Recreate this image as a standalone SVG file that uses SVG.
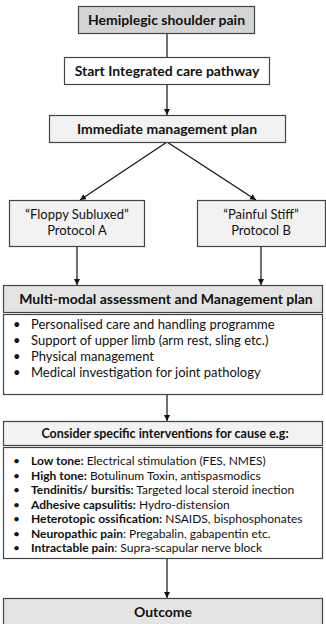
<svg xmlns="http://www.w3.org/2000/svg" width="326" height="624" viewBox="0 0 326 624">
<defs>
<marker id="ah" markerWidth="7" markerHeight="7" refX="6" refY="3" orient="auto" markerUnits="userSpaceOnUse">
<path d="M0,0 L6,3 L0,6 Z" fill="#111"/>
</marker>
<style>
rect{stroke:#444;stroke-width:1.2}
.g1{fill:#d4d4d4}.g2{fill:#f2f2f2}.g3{fill:#e4e4e4}.w{fill:#fff}
text{font-family:Lato,"Liberation Sans",sans-serif;fill:#111}
.t{font-weight:bold;font-size:14px;text-anchor:middle}
.c{font-size:13px;text-anchor:middle}
.l{font-size:12px}
.l1{font-size:13px}
.b{font-weight:bold}
.cn{stroke:#111;stroke-width:1.2;fill:none}
.cn.a{marker-end:url(#ah)}
</style>
</defs>
<g id="connectors">
<line class="cn" x1="167" y1="33" x2="167" y2="57"/>
<line class="cn a" x1="167" y1="84" x2="167" y2="115"/>
<line class="cn a" x1="167" y1="142" x2="80" y2="200"/>
<line class="cn a" x1="167" y1="142" x2="256" y2="200"/>
<line class="cn a" x1="77" y1="246" x2="77" y2="285"/>
<line class="cn a" x1="261" y1="246" x2="261" y2="285"/>
<line class="cn a" x1="167" y1="394" x2="167" y2="421"/>
<line class="cn a" x1="167" y1="559" x2="167" y2="598"/>
</g>
<g id="n1"><rect class="g1" x="78.5" y="6.5" width="176" height="27"/><text class="t" x="166.5" y="25">Hemiplegic shoulder pain</text></g>
<g id="n2"><rect class="w" x="64.5" y="57.5" width="205" height="27"/><text class="t" x="167" y="76">Start Integrated care pathway</text></g>
<g id="n3"><rect class="g2" x="49.5" y="115.5" width="236" height="27"/><text class="t" x="167" y="134">Immediate management plan</text></g>
<g id="nA"><rect class="g2" x="9.5" y="200.5" width="135" height="46"/><text class="c" x="77" y="219">“Floppy Subluxed”</text><text class="c" x="77" y="235">Protocol A</text></g>
<g id="nB"><rect class="g2" x="197.5" y="200.5" width="128" height="46"/><text class="c" x="261" y="219">“Painful Stiff”</text><text class="c" x="261" y="235">Protocol B</text></g>
<g id="n4"><rect class="g3" x="3.5" y="285.5" width="319" height="27"/><text class="t" x="166" y="304">Multi-modal assessment and Management plan</text></g>
<g id="n5"><rect class="w" x="3.5" y="314.5" width="319" height="80"/>
<text class="l1" x="13" y="329">•</text><text class="l1" x="31" y="329">Personalised care and handling programme</text>
<text class="l1" x="13" y="345">•</text><text class="l1" x="31" y="345">Support of upper limb (arm rest, sling etc.)</text>
<text class="l1" x="13" y="361">•</text><text class="l1" x="31" y="361">Physical management</text>
<text class="l1" x="13" y="377">•</text><text class="l1" x="31" y="377">Medical investigation for joint pathology</text>
</g>
<g id="n6"><rect class="g2" x="3.5" y="421.5" width="319" height="24"/><text class="t" x="165" y="438" style="font-size:12.5px">Consider specific interventions for cause e.g:</text></g>
<g id="n7"><rect class="w" x="3.5" y="447.5" width="319" height="111"/>
<text class="l" x="13" y="465">•</text><text class="l" x="31" y="465"><tspan class="b">Low tone:</tspan> Electrical stimulation (FES, NMES)</text>
<text class="l" x="13" y="479.5">•</text><text class="l" x="31" y="479.5"><tspan class="b">High tone:</tspan> Botulinum Toxin, antispasmodics</text>
<text class="l" x="13" y="494">•</text><text class="l" x="31" y="494"><tspan class="b">Tendinitis/ bursitis:</tspan> Targeted local steroid inection</text>
<text class="l" x="13" y="508.5">•</text><text class="l" x="31" y="508.5"><tspan class="b">Adhesive capsulitis:</tspan> Hydro-distension</text>
<text class="l" x="13" y="523">•</text><text class="l" x="31" y="523"><tspan class="b">Heterotopic ossification:</tspan> NSAIDS, bisphosphonates</text>
<text class="l" x="13" y="537.5">•</text><text class="l" x="31" y="537.5"><tspan class="b">Neuropathic pain</tspan>: Pregabalin, gabapentin etc.</text>
<text class="l" x="13" y="552">•</text><text class="l" x="31" y="552"><tspan class="b">Intractable pain</tspan>: Supra-scapular nerve block</text>
</g>
<g id="n8"><rect class="g3" x="3.5" y="598.5" width="319" height="30"/><text class="t" x="163" y="617">Outcome</text></g>
</svg>
